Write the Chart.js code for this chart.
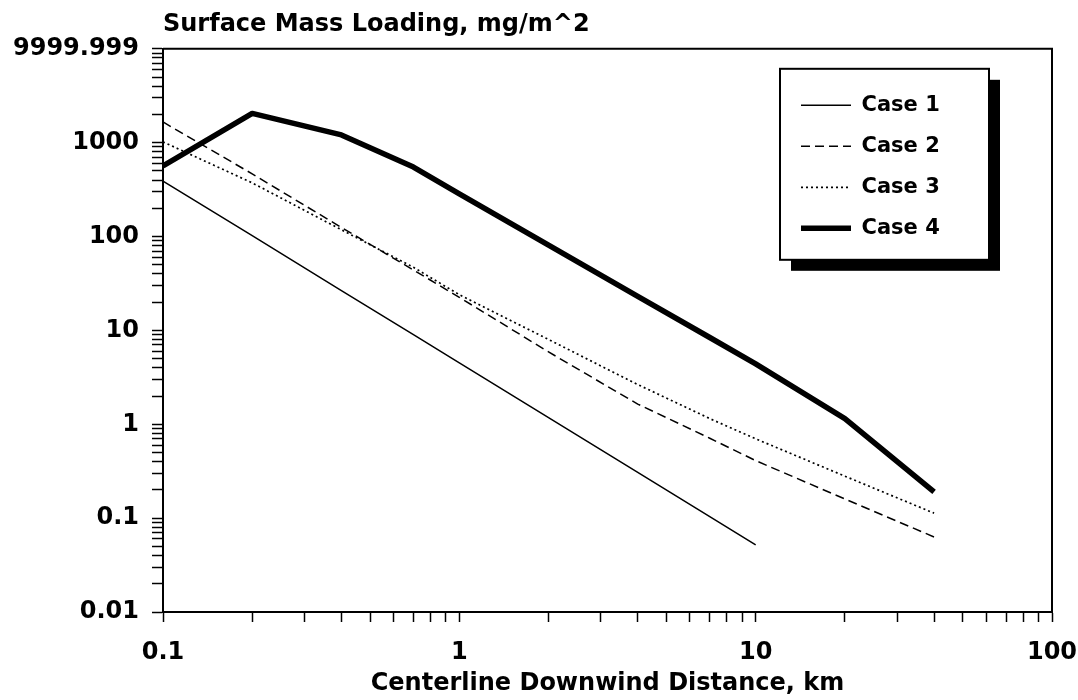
<!DOCTYPE html>
<html><head><meta charset="utf-8">
<script src="https://cdn.jsdelivr.net/npm/chart.js@4.4.1/dist/chart.umd.min.js"></script>
<style>html,body{margin:0;padding:0;background:#fff;}canvas{display:block;}</style>
</head><body>
<canvas id="c" width="1078" height="700" style="width:1078px;height:700px"></canvas>
<script>
// ---- data ----
const distances = [0.1, 0.2, 0.4, 0.7, 1, 2, 4, 7, 10, 20, 40];
const case1 = [390, 102, 26.6, 9.0, 4.5, 1.18, 0.307, 0.104, 0.052, null, null];
const case2 = [1660, 465, 125, 44, 22.5, 5.9, 1.64, 0.71, 0.41, 0.16, 0.063];
const case3 = [1020, 373, 118, 47, 24, 8, 2.65, 1.15, 0.7, 0.28, 0.113];
const case4 = [565, 2050, 1210, 550, 285, 81, 23, 8.4, 4.4, 1.15, 0.19];
const seriesNames = ['Case 1', 'Case 2', 'Case 3', 'Case 4'];
const xTickValues = [0.1, 1, 10, 100];
const xTickLabels = ['0.1', '1', '10', '100'];
const yTickValues = [0.01, 0.1, 1, 10, 100, 1000, 10000];
const yTickLabels = ['0.01', '0.1', '1', '10', '100', '1000', '9999.999'];
const chartTitle = 'Surface Mass Loading, mg/m^2';
const xAxisTitle = 'Centerline Downwind Distance, km';

// ---- styles ----
const FONT = 'DejaVu Sans';
const lineStyles = [
  {width: 1.5, dash: []},
  {width: 1.5, dash: [9, 5]},
  {width: 1.7, dash: [2, 3]},
  {width: 5.5, dash: []}
];
const seriesValues = [case1, case2, case3, case4];

function logTicks(min, max) {
  const out = [];
  const e0 = Math.round(Math.log10(min)), e1 = Math.round(Math.log10(max));
  for (let e = e0; e < e1; e++) {
    for (let k = 1; k < 10; k++) out.push({value: k * Math.pow(10, e), major: k === 1});
  }
  out.push({value: max, major: true});
  return out;
}
function labelFor(v, values, labels) {
  for (let i = 0; i < values.length; i++) {
    if (Math.abs(Math.log10(v) - Math.log10(values[i])) < 1e-6) return labels[i];
  }
  return '';
}

const datasets = seriesNames.map((name, i) => ({
  label: name,
  data: distances.map((d, j) => ({x: d, y: seriesValues[i][j]})).filter(p => p.y !== null),
  borderColor: '#000',
  backgroundColor: '#000',
  borderWidth: lineStyles[i].width,
  borderDash: lineStyles[i].dash,
  borderJoinStyle: 'round',
  pointRadius: 0,
  tension: 0,
  fill: false
}));

const framePlugin = {
  id: 'framePlugin',
  afterLayout(chart) {
    const ca = chart.chartArea;
    if (chart.titleBlock) {
      chart.titleBlock.left = ca.left;
    }
    const lg = chart.legend;
    if (lg) {
      const w = lg.width, h = lg.height;
      lg.left = ca.right - 271;
      lg.top = ca.top + 26;
      lg.right = lg.left + w;
      lg.bottom = lg.top + h + 40;
    }
  },
  beforeDraw(chart) {
    const lg = chart.legend;
    if (!lg) return;
    const ctx = chart.ctx;
    const bx = lg.left - 1, by = lg.top - 6, bw = 209, bh = 191;
    ctx.save();
    ctx.fillStyle = '#000';
    ctx.fillRect(bx + 11, by + 11, bw, bh);
    ctx.fillStyle = '#fff';
    ctx.fillRect(bx, by, bw, bh);
    ctx.lineWidth = 2;
    ctx.strokeStyle = '#000';
    ctx.strokeRect(bx, by, bw, bh);
    ctx.restore();
  },
  afterDatasetsDraw(chart) {
    const ca = chart.chartArea;
    const ctx = chart.ctx;
    ctx.save();
    ctx.strokeStyle = '#000';
    ctx.lineWidth = 2;
    ctx.beginPath();
    ctx.moveTo(ca.left, ca.top);
    ctx.lineTo(ca.right, ca.top);
    ctx.lineTo(ca.right, ca.bottom);
    ctx.stroke();
    ctx.restore();
  }
};

new Chart(document.getElementById('c'), {
  type: 'line',
  data: {datasets},
  plugins: [framePlugin],
  options: {
    responsive: false,
    animation: false,
    devicePixelRatio: 1,
    layout: {padding: {left: 0, right: 26, top: 0, bottom: 0}},
    plugins: {
      title: {
        display: true,
        text: chartTitle,
        align: 'start',
        color: '#000',
        font: {family: FONT, weight: 'bold', size: 24},
        padding: {top: 10, bottom: 10}
      },
      legend: {
        display: true,
        position: 'chartArea',
        align: 'start',
        labels: {
          usePointStyle: true,
          pointStyle: 'line',
          pointStyleWidth: 50,
          padding: 20,
          color: '#000',
          font: {family: FONT, weight: 'bold', size: 21},
          generateLabels(chart) {
            return chart.data.datasets.map((ds, i) => ({
              text: ds.label,
              strokeStyle: ds.borderColor,
              fillStyle: ds.borderColor,
              lineWidth: ds.borderWidth,
              lineDash: ds.borderDash,
              lineCap: 'butt',
              pointStyle: 'line',
              fontColor: '#000',
              hidden: false,
              datasetIndex: i
            }));
          }
        }
      },
      tooltip: {enabled: false}
    },
    scales: {
      x: {
        type: 'logarithmic',
        position: 'bottom',
        min: xTickValues[0],
        max: xTickValues[xTickValues.length - 1],
        afterBuildTicks(scale) { scale.ticks = logTicks(scale.min, scale.max); },
        afterFit(scale) { scale.height = 88; scale.paddingLeft = 0; scale.paddingRight = 0; },
        grid: {display: true, drawOnChartArea: false, drawTicks: true, tickLength: 10, tickColor: '#000', tickWidth: 1.5},
        border: {display: true, color: '#000', width: 2},
        ticks: {
          autoSkip: false, maxRotation: 0, minRotation: 0, padding: 16,
          color: '#000',
          font: {family: FONT, weight: 'bold', size: 24},
          callback: (v) => labelFor(v, xTickValues, xTickLabels)
        },
        title: {
          display: true,
          text: xAxisTitle,
          color: '#000',
          font: {family: FONT, weight: 'bold', size: 24},
          padding: {top: 0, bottom: 2}
        }
      },
      y: {
        type: 'logarithmic',
        position: 'left',
        min: yTickValues[0],
        max: yTickValues[yTickValues.length - 1],
        afterBuildTicks(scale) { scale.ticks = logTicks(scale.min, scale.max); },
        afterFit(scale) { scale.width = 163; },
        grid: {display: true, drawOnChartArea: false, drawTicks: true, tickLength: 11, tickColor: '#000', tickWidth: 1.5},
        border: {display: true, color: '#000', width: 2},
        ticks: {
          autoSkip: false, padding: 13,
          color: '#000',
          font: {family: FONT, weight: 'bold', size: 24},
          callback: (v) => labelFor(v, yTickValues, yTickLabels)
        }
      }
    }
  }
});
</script>
</body></html>
